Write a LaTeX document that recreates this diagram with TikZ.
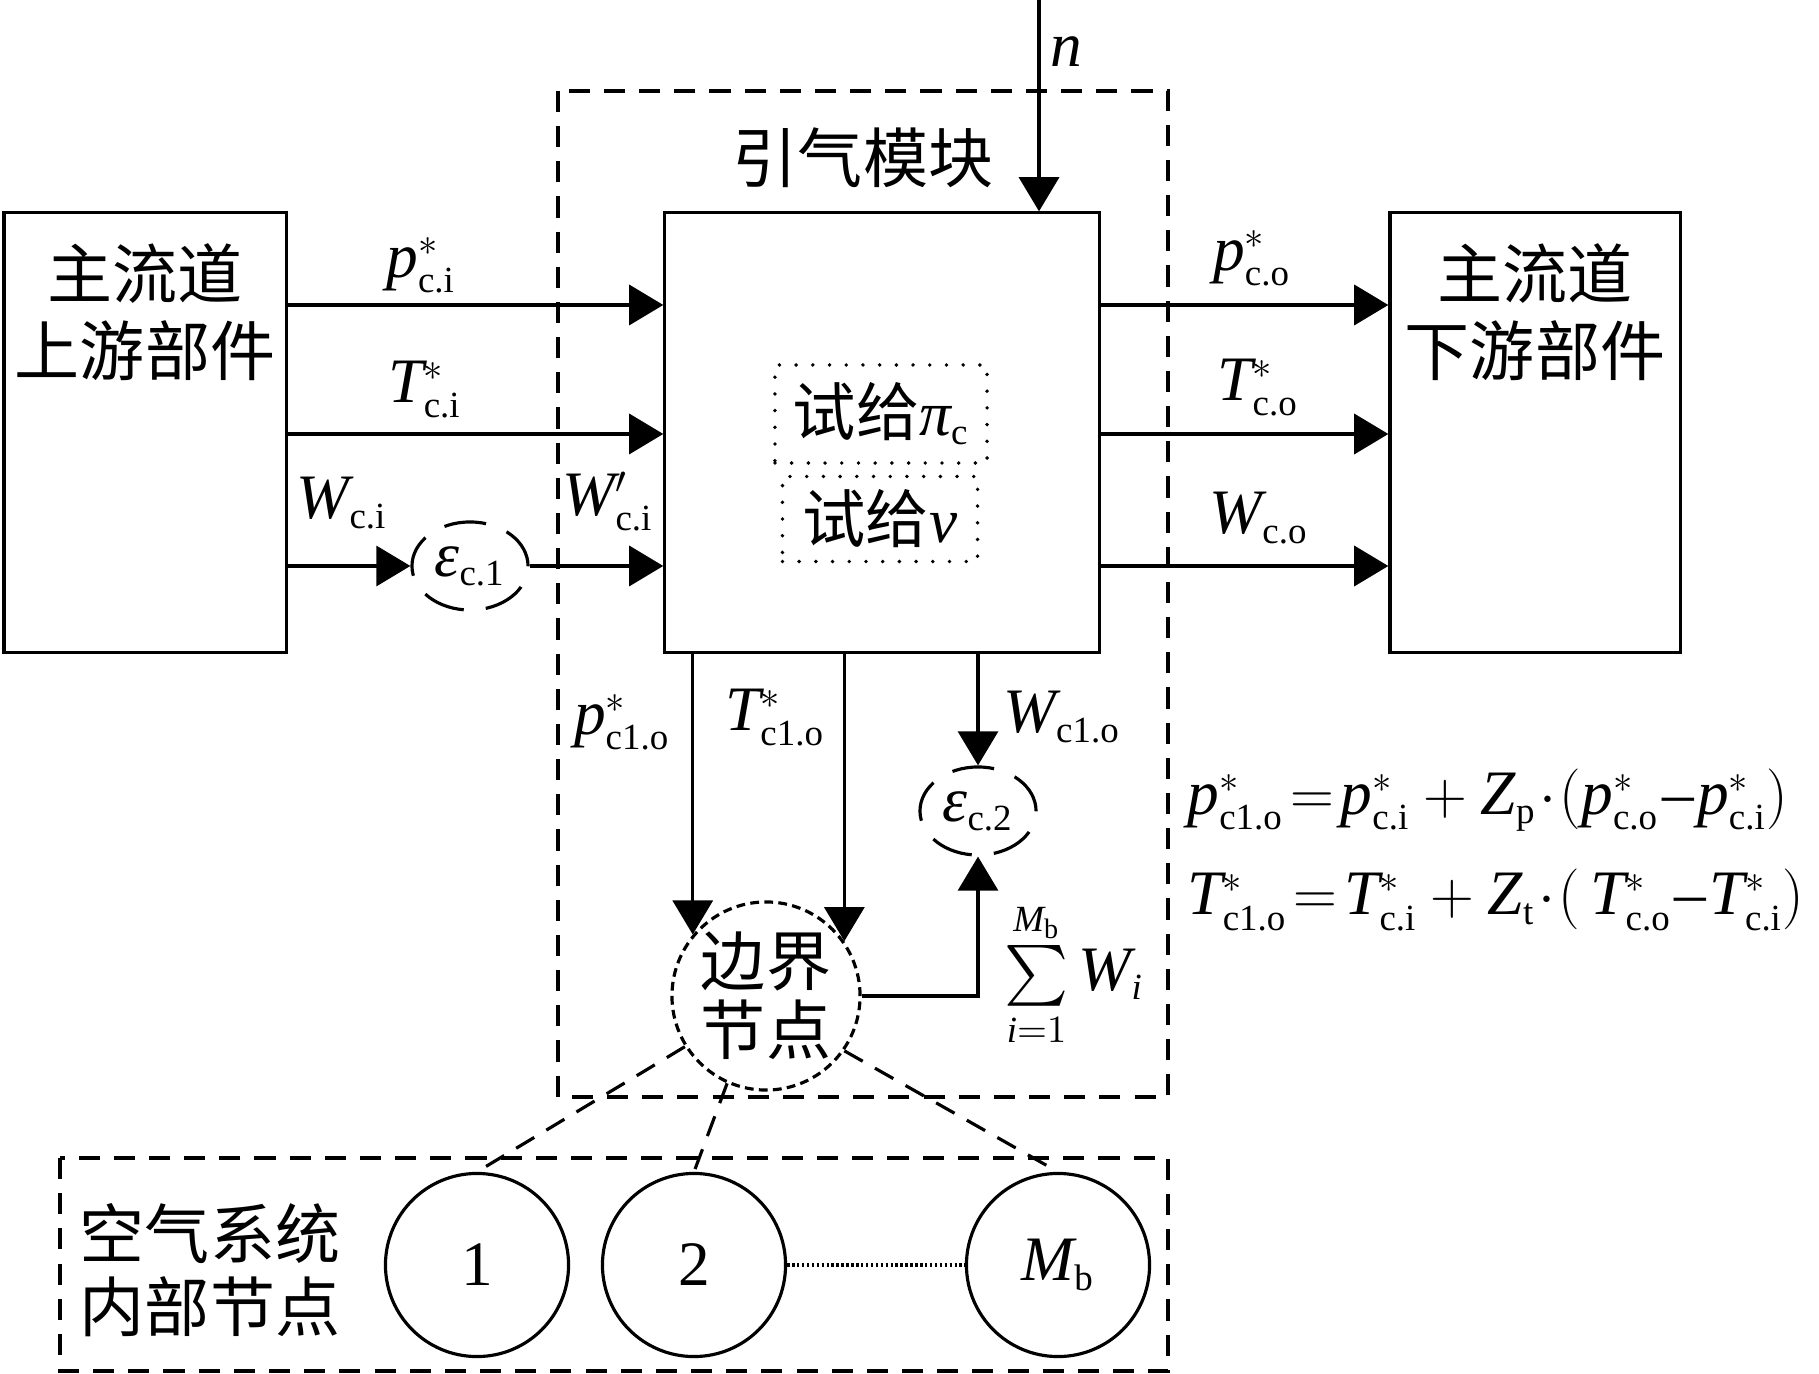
\documentclass[tikz,border=0pt]{standalone}
\usepackage{amsmath}
\usepackage{fontspec}
\setmainfont{Liberation Serif}
\usepackage[italic]{mathastext}
\newfontfamily\cjk{Noto Sans CJK SC}
\DeclareMathSizes{18}{18}{10.5}{8}
\newcommand\gr[1]{\mbox{\rmfamily\itshape #1}}
\usetikzlibrary{arrows.meta,shapes.geometric}

\begin{document}
\begin{tikzpicture}[x=0.01cm,y=-0.01cm,line width=0.9pt,
    font=\fontsize{18}{22}\selectfont,
    >={Triangle[length=9.7pt,width=11.4pt]},
    kuang/.style={draw,rectangle,inner sep=0pt,minimum height=4.39cm},
    hanzi/.style={font=\fontsize{18.5}{22}\selectfont\cjk},
    xuxian/.style={dash pattern=on 6pt off 4pt},
    dianxian/.style={draw,line width=1.1pt,line cap=round,dash pattern=on 0pt off 4.75pt,inner sep=0pt},
    wucha/.style={draw,ellipse,inner sep=0pt,minimum width=1.16cm,minimum height=0.88cm,dash pattern=on 12pt off 6.3pt},
    jiedian/.style={draw,circle,inner sep=0pt,minimum size=1.83cm}]

  \useasboundingbox (0,0) rectangle (1819,1374);

  % 虚线模块边框
  \draw[xuxian] (558,91) rectangle (1168,1097);
  \draw[xuxian] (60,1158) rectangle (1168,1371);

  % 三个实线方框
  \node[kuang,minimum width=2.82cm] (U) at (145,432.5) {};
  \node[kuang,minimum width=4.34cm] (M) at (882,432.5) {};
  \node[kuang,minimum width=2.90cm] (D) at (1535,432.5) {};
  \node[hanzi,align=center] (Ut) at (145,312) {主流道\\上游部件};
  \node[hanzi,align=center] (Dt) at (1535,312) {主流道\\下游部件};
  \node[hanzi] (title) at (863,158) {引气模块};

  % 试给框
  \node[dianxian,minimum width=2.12cm,minimum height=0.98cm] (PI) at (881,414) {\cjk 试给\gr{π}$_{\mathrm{c}}$};
  \node[dianxian,minimum width=1.95cm,minimum height=0.85cm] (NU) at (880,519) {\cjk 试给\gr{ν}};

  % 误差与节点
  \node[wucha] (E1) at (470,566) {\gr{ε}$_{\mathrm{c.1}}$};
  \node[wucha] (E2) at (978,811) {\gr{ε}$_{\mathrm{c.2}}$};
  \node[jiedian,minimum size=1.88cm,dash pattern=on 2.5pt off 1.5pt,align=center,
        font=\fontsize{18.5}{19.5}\selectfont\cjk] (B) at (766,996) {边界\\节点};
  \node[jiedian] (N1) at (477,1265) {1};
  \node[jiedian] (N2) at (694,1265) {2};
  \node[jiedian] (Nm) at (1058,1265) {$M_{\mathrm{b}}$};
  \node[align=center,font=\fontsize{18.5}{20.8}\selectfont\cjk] (sys) at (210,1270) {空气系统\\内部节点};

  % 水平连线
  \coordinate (h1) at (0,305);
  \coordinate (h2) at (0,434);
  \coordinate (h3) at (0,566);
  \coordinate (ntop) at (1039,0);
  \draw[->] (U.east |- h1) -- (M.west |- h1);
  \draw[->] (U.east |- h2) -- (M.west |- h2);
  \draw[->] (U.east |- h3) -- (E1.west);
  \draw[->] (E1.east) -- (M.west |- h3);
  \draw[->] (M.east |- h1) -- (D.west |- h1);
  \draw[->] (M.east |- h2) -- (D.west |- h2);
  \draw[->] (M.east |- h3) -- (D.west |- h3);
  \draw[->] (ntop) -- (M.north -| ntop);

  % 竖直连线
  \draw[->] (M.south -| B.140) -- (B.140);
  \draw[->] (M.south -| B.35) -- (B.35);
  \draw[->] (M.south -| E2.north) -- (E2.north);
  \draw[->] (B.east) -| (E2.south);

  % 边界节点与内部节点
  \draw[xuxian] (B.212) -- (N1.north);
  \draw[xuxian] (B.246) -- (N2.north);
  \draw[xuxian] (B.325) -- (Nm.north);
  \draw[line width=1.2pt,dash pattern=on 0.7pt off 0.7pt] (N2.east) -- (Nm.west);

  % 变量标注
  \node (lpi) at (421,265) {$p^*_{\mathrm{c.i}}$};
  \node (lti) at (425,390) {$T^*_{\mathrm{c.i}}$};
  \node (lwi) at (342,503) {$W_{\mathrm{c.i}}$};
  \node (lwp) at (608,502) {$W'_{\mathrm{c.i}}$};
  \node (lpo) at (1252,258) {$p^*_{\mathrm{c.o}}$};
  \node (lto) at (1258,388) {$T^*_{\mathrm{c.o}}$};
  \node (lwo) at (1259,518) {$W_{\mathrm{c.o}}$};
  \node (lp1) at (622,722) {$p^*_{\mathrm{c1.o}}$};
  \node (lt1) at (775,718) {$T^*_{\mathrm{c1.o}}$};
  \node (lw1) at (1062,717) {$W_{\mathrm{c1.o}}$};
  \node[anchor=west,inner sep=0pt] (ln) at (1049,52) {$n$};
  \node[anchor=west,inner sep=0pt] (lsum) at (1003,975) {$\sum\limits_{i=1}^{M_{\mathrm{b}}}W_i$};

  % 公式
  \node[anchor=west,inner sep=0pt] (eqp) at (1186,800)
    {$p^*_{\mathrm{c1.o}}\!=\!p^*_{\mathrm{c.i}}+Z_{\mathrm{p}}\!\cdot\!(p^*_{\mathrm{c.o}}\!-\!p^*_{\mathrm{c.i}})$};
  \node[anchor=west,inner sep=0pt] (eqt) at (1186,900)
    {$T^*_{\mathrm{c1.o}}\!=\!T^*_{\mathrm{c.i}}+Z_{\mathrm{t}}\!\cdot\!(\,T^*_{\mathrm{c.o}}\!-\!T^*_{\mathrm{c.i}})$};
\end{tikzpicture}
\end{document}
